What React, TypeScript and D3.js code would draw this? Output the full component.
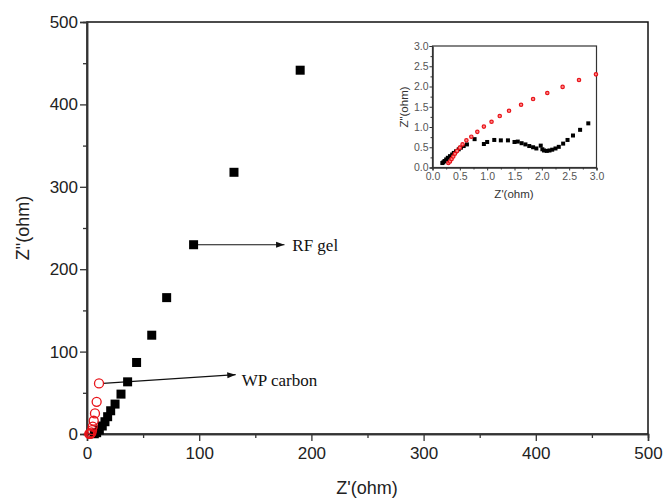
import React, {useEffect, useRef} from 'react'
import * as d3 from 'd3'

// main plot: RF gel (black squares) and WP carbon (red open circles)
const rfX = [190, 131, 95, 71, 57.7, 44.2, 36.2, 30.3, 25, 21.1, 18.4, 16, 13.6, 11, 8.6, 6.5]
const rfY = [441.5, 317.6, 229.7, 165.5, 119.9, 86.8, 63.3, 48.4, 36.3, 28.2, 21, 14.9, 9.7, 4.8, 1.6, 0.3]
const wpX = [10.7, 8.6, 7.1, 6, 5.1, 4.5, 4, 3.3, 2.6, 2]
const wpY = [61.4, 39.1, 25, 16.1, 8.9, 4.8, 1.9, 0.6, 0.2, 0.05]

// inset (zoom on 0..3 ohm)
const inRfX = [0.18, 0.2, 0.22, 0.25, 0.28, 0.32, 0.36, 0.39, 0.43, 0.48, 0.52, 0.57, 0.63, 0.77, 0.94, 1.0, 1.13, 1.25, 1.38, 1.5, 1.56, 1.63, 1.7, 1.77, 1.84, 1.9, 1.98, 2.01, 2.04, 2.09, 2.14, 2.19, 2.25, 2.31, 2.39, 2.47, 2.57, 2.7, 2.85]
const inRfY = [0.11, 0.13, 0.16, 0.2, 0.24, 0.28, 0.32, 0.36, 0.4, 0.45, 0.49, 0.53, 0.57, 0.7, 0.58, 0.63, 0.68, 0.67, 0.67, 0.63, 0.64, 0.6, 0.57, 0.53, 0.5, 0.47, 0.54, 0.45, 0.42, 0.41, 0.42, 0.44, 0.47, 0.51, 0.59, 0.68, 0.79, 0.93, 1.09]
const inWpX = [0.29, 0.32, 0.35, 0.38, 0.41, 0.45, 0.5, 0.55, 0.62, 0.71, 0.82, 0.94, 1.08, 1.23, 1.4, 1.62, 1.84, 2.1, 2.38, 2.68, 2.99]
const inWpY = [0.11, 0.15, 0.21, 0.27, 0.34, 0.41, 0.49, 0.57, 0.67, 0.76, 0.88, 1.01, 1.13, 1.27, 1.4, 1.55, 1.69, 1.84, 1.99, 2.16, 2.3]

const mainTicks = [0, 100, 200, 300, 400, 500]
const mainMinor = [50, 150, 250, 350, 450]
const insetTicks = [0, 0.5, 1, 1.5, 2, 2.5, 3]
const insetMinor = [0.25, 0.75, 1.25, 1.75, 2.25, 2.75]

const sans = 'Liberation Sans, Arial, sans-serif'
const serif = 'Liberation Serif, Times New Roman, serif'

export default function App() {
    const ref = useRef<SVGSVGElement>(null)

    useEffect(() => {
        const svg = d3.select(ref.current)
        svg.selectAll('*').remove()

        const x = d3.scaleLinear().domain([0, 500]).range([87, 648])
        const y = d3.scaleLinear().domain([0, 500]).range([434, 22])

        const defs = svg.append('defs')
        defs.append('marker')
            .attr('id', 'arrow')
            .attr('viewBox', '0 0 10 10')
            .attr('refX', 10).attr('refY', 5)
            .attr('markerWidth', 9).attr('markerHeight', 7)
            .attr('orient', 'auto')
            .append('path').attr('d', 'M0,1.5 L10,5 L0,8.5 z').attr('fill', '#111')

        // frame
        svg.append('rect')
            .attr('x', 87).attr('y', 22).attr('width', 648 - 87).attr('height', 434 - 22)
            .attr('fill', 'none').attr('stroke', '#111').attr('stroke-width', 1.5)

        const xAxis = d3.axisBottom(x).tickValues(mainTicks).tickSize(7).tickPadding(6).tickFormat(d3.format('d'))
        const yAxis = d3.axisLeft(y).tickValues(mainTicks).tickSize(7).tickPadding(2).tickFormat(d3.format('d'))

        const xg = svg.append('g').attr('transform', 'translate(0,434)').call(xAxis)
        const yg = svg.append('g').attr('transform', 'translate(87,0)').call(yAxis)
        svg.append('g').attr('transform', 'translate(0,434)')
            .call(d3.axisBottom(x).tickValues(mainMinor).tickSize(4).tickFormat(() => ''))
        svg.append('g').attr('transform', 'translate(87,0)')
            .call(d3.axisLeft(y).tickValues(mainMinor).tickSize(4).tickFormat(() => ''))

        svg.selectAll('.domain').attr('stroke', '#111').attr('stroke-width', 1.5)
        svg.selectAll('.tick line').attr('stroke', '#111').attr('stroke-width', 1.3)
        ;[xg, yg].forEach(g => g.selectAll('text')
            .attr('font-family', sans).attr('font-size', 17).attr('fill', '#222'))

        svg.append('text')
            .attr('x', 367).attr('y', 494)
            .attr('text-anchor', 'middle')
            .attr('font-family', sans).attr('font-size', 18).attr('fill', '#222')
            .text("Z'(ohm)")
        svg.append('text')
            .attr('transform', 'translate(29,228) rotate(-90)')
            .attr('text-anchor', 'middle')
            .attr('font-family', sans).attr('font-size', 18).attr('fill', '#222')
            .text('Z"(ohm)')

        // annotation arrows
        svg.append('line')
            .attr('x1', x(95)).attr('y1', y(229.7))
            .attr('x2', x(176)).attr('y2', y(229.7))
            .attr('stroke', '#111').attr('stroke-width', 1.2)
            .attr('marker-end', 'url(#arrow)')
        svg.append('text')
            .attr('x', x(183)).attr('y', y(229.7) + 6)
            .attr('font-family', serif).attr('font-size', 17).attr('fill', '#111')
            .text('RF gel')

        svg.append('line')
            .attr('x1', x(10.7) + 4).attr('y1', y(61.4))
            .attr('x2', x(132.5)).attr('y2', y(72))
            .attr('stroke', '#111').attr('stroke-width', 1.2)
            .attr('marker-end', 'url(#arrow)')
        svg.append('text')
            .attr('x', x(138)).attr('y', y(66) + 6)
            .attr('font-family', serif).attr('font-size', 17).attr('fill', '#111')
            .text('WP carbon')

        // main markers
        const rf = d3.zip(rfX, rfY)
        const wp = d3.zip(wpX, wpY)
        svg.append('g').selectAll('rect').data(rf).join('rect')
            .attr('x', d => x(d[0]) - 4.5).attr('y', d => y(d[1]) - 4.5)
            .attr('width', 9).attr('height', 9).attr('fill', '#000')
        svg.append('g').selectAll('circle').data(wp).join('circle')
            .attr('cx', d => x(d[0])).attr('cy', d => y(d[1])).attr('r', 4.5)
            .attr('fill', 'none').attr('stroke', '#e8141a').attr('stroke-width', 1.3)

        // inset
        const ix = d3.scaleLinear().domain([0, 3]).range([432.5, 596.5])
        const iy = d3.scaleLinear().domain([0, 3]).range([167.5, 46])

        svg.append('rect')
            .attr('x', 432.5).attr('y', 46).attr('width', 596.5 - 432.5).attr('height', 167.5 - 46)
            .attr('fill', '#fff').attr('stroke', '#333').attr('stroke-width', 1.2)

        const ixg = svg.append('g').attr('transform', 'translate(0,167.5)')
            .call(d3.axisBottom(ix).tickValues(insetTicks).tickSize(3).tickPadding(2).tickFormat(d3.format('.1f')))
        const iyg = svg.append('g').attr('transform', 'translate(432.5,0)')
            .call(d3.axisLeft(iy).tickValues(insetTicks).tickSize(3).tickPadding(1).tickFormat(d3.format('.1f')))
        svg.append('g').attr('transform', 'translate(0,167.5)')
            .call(d3.axisBottom(ix).tickValues(insetMinor).tickSize(2).tickFormat(() => ''))
        svg.append('g').attr('transform', 'translate(432.5,0)')
            .call(d3.axisLeft(iy).tickValues(insetMinor).tickSize(2).tickFormat(() => ''))
        ;[ixg, iyg].forEach(g => {
            g.selectAll('text').attr('font-family', sans).attr('font-size', 10.5).attr('fill', '#555')
        })
        svg.selectAll('.domain').attr('stroke', '#333')
        svg.selectAll('.tick line').attr('stroke', '#333')

        svg.append('text')
            .attr('x', 514).attr('y', 198)
            .attr('text-anchor', 'middle')
            .attr('font-family', sans).attr('font-size', 11.5).attr('fill', '#333')
            .text("Z'(ohm)")
        svg.append('text')
            .attr('transform', 'translate(408,107) rotate(-90)')
            .attr('text-anchor', 'middle')
            .attr('font-family', sans).attr('font-size', 11.5).attr('fill', '#333')
            .text('Z"(ohm)')

        const inRf = d3.zip(inRfX, inRfY)
        const inWp = d3.zip(inWpX, inWpY)
        svg.append('g').selectAll('rect').data(inRf).join('rect')
            .attr('x', d => ix(d[0]) - 2).attr('y', d => iy(d[1]) - 2)
            .attr('width', 4).attr('height', 4).attr('fill', '#000')
        svg.append('g').selectAll('circle').data(inWp).join('circle')
            .attr('cx', d => ix(d[0])).attr('cy', d => iy(d[1])).attr('r', 1.7)
            .attr('fill', '#f88').attr('stroke', '#e8141a').attr('stroke-width', 1.2)
    }, [])

    return (
        <svg ref={ref} width={667} height={500}
            style={{position: 'absolute', left: 0, top: 0, background: '#fff'}} />
    )
}
